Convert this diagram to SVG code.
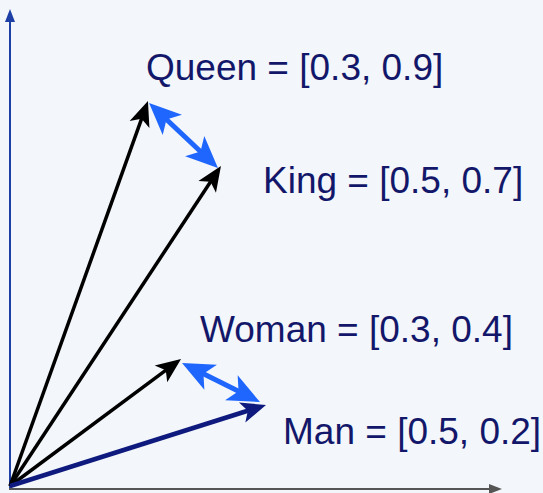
<svg xmlns="http://www.w3.org/2000/svg" width="543" height="493" viewBox="0 0 543 493">
<defs>
<style>
.lbl{font-family:"Liberation Sans",Arial,Helvetica,sans-serif;font-size:37px;fill:#13176a}
.vec{stroke:#000;stroke-width:3.5;fill:none}
.man{stroke:#0f1a7e;stroke-width:4.5;fill:none}
.diff{stroke:#1f66ff;stroke-width:5;fill:none}
</style>
<marker id="hBlack" markerUnits="userSpaceOnUse" viewBox="-12 -12 28 24" refX="0" refY="0" markerWidth="28" markerHeight="24" orient="auto" overflow="visible">
<path d="M15,0 L-10,-10.5 L-4,0 L-10,10.5 Z" fill="#000"/>
</marker>
<marker id="hNavy" markerUnits="userSpaceOnUse" viewBox="-12 -12 28 24" refX="0" refY="0" markerWidth="28" markerHeight="24" orient="auto" overflow="visible">
<path d="M15,0 L-10,-10.5 L-4,0 L-10,10.5 Z" fill="#0f1a7e"/>
</marker>
<marker id="hBlue" markerUnits="userSpaceOnUse" viewBox="-14 -16 36 32" refX="0" refY="0" markerWidth="36" markerHeight="32" orient="auto-start-reverse" overflow="visible">
<path d="M20,0 L-12,-14 L-4,0 L-12,14 Z" fill="#1f66ff"/>
</marker>
<marker id="hAxisY" markerUnits="userSpaceOnUse" viewBox="0 -6 14 12" refX="0" refY="0" markerWidth="14" markerHeight="12" orient="auto" overflow="visible">
<path d="M13,0 L0,-5 L0,5 Z" fill="#1e3fa5"/>
</marker>
<marker id="hAxisX" markerUnits="userSpaceOnUse" viewBox="0 -6 14 12" refX="0" refY="0" markerWidth="14" markerHeight="12" orient="auto" overflow="visible">
<path d="M13,0 L0,-5 L0,5 Z" fill="#555"/>
</marker>
</defs>
<rect width="543" height="493" fill="#f3f6fa"/>
<g id="axes">
<line x1="10" y1="489" x2="10" y2="22" stroke="#1e3fa5" stroke-width="2" marker-end="url(#hAxisY)"/>
<line x1="9" y1="489" x2="489" y2="489" stroke="#555" stroke-width="2" marker-end="url(#hAxisX)"/>
</g>
<g id="connectors">
<line class="vec" x1="10" y1="486" x2="142.9" y2="115.1" marker-end="url(#hBlack)"/>
<line class="vec" x1="10" y1="486" x2="212.7" y2="178.5" marker-end="url(#hBlack)"/>
<line class="vec" x1="10" y1="486" x2="169" y2="367.9" marker-end="url(#hBlack)"/>
<line class="man" x1="10" y1="486" x2="251.7" y2="409.5" marker-end="url(#hNavy)"/>
<line class="diff" x1="163.6" y1="116.7" x2="203.4" y2="154.3" marker-start="url(#hBlue)" marker-end="url(#hBlue)"/>
<line class="diff" x1="199.9" y1="371.9" x2="242.1" y2="393.1" marker-start="url(#hBlue)" marker-end="url(#hBlue)"/>
</g>
<g id="queen"><text class="lbl" x="146" y="80">Queen = [0.3, 0.9]</text></g>
<g id="king"><text class="lbl" x="263" y="193">King = [0.5, 0.7]</text></g>
<g id="woman"><text class="lbl" x="200" y="342">Woman = [0.3, 0.4]</text></g>
<g id="man"><text class="lbl" x="283" y="444">Man = [0.5, 0.2]</text></g>
</svg>
